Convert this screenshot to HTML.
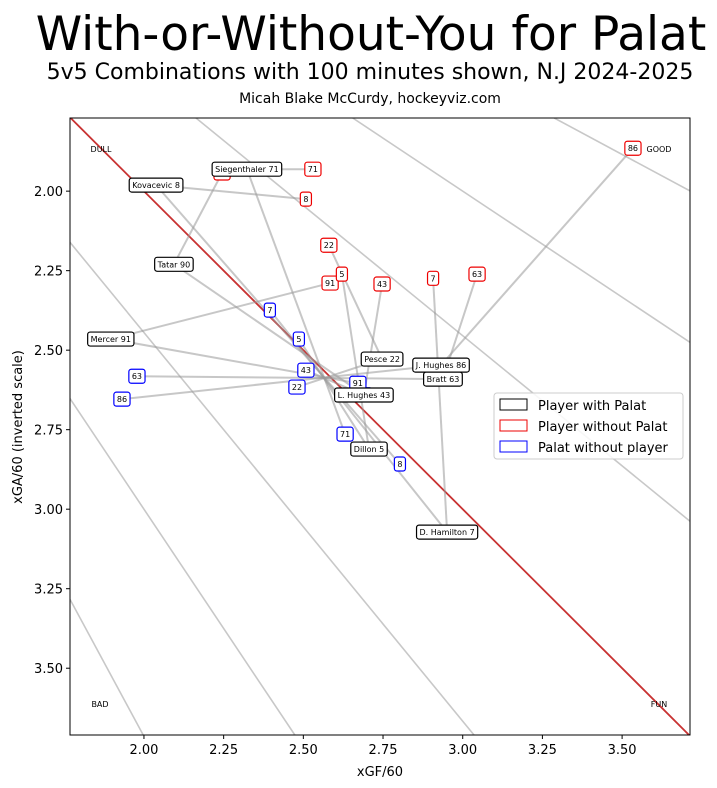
<!DOCTYPE html>
<html><head><meta charset="utf-8">
<style>
html,body{margin:0;padding:0;background:#fff;width:717px;height:788px;overflow:hidden;font-family:"Liberation Sans","DejaVu Sans",sans-serif;}
svg{display:block;overflow:hidden;}
svg text{font-family:"DejaVu Sans","Liberation Sans",sans-serif;}
</style></head>
<body>
<svg id="chart" width="717" height="788" viewBox="0 0 717 788">
<text x="371" y="50" font-size="47" text-anchor="middle">With-or-Without-You for Palat</text>
<text x="370" y="79" font-size="22" text-anchor="middle">5v5 Combinations with 100 minutes shown, N.J 2024-2025</text>
<text x="370" y="103" font-size="14" text-anchor="middle">Micah Blake McCurdy, hockeyviz.com</text>
<defs><clipPath id="pc"><rect x="70" y="118" width="620" height="617"/></clipPath></defs>
<g id="grid" clip-path="url(#pc)"></g>
<g id="links" clip-path="url(#pc)"></g>
<g id="marks"></g>
<rect x="70" y="118" width="620" height="617" fill="none" stroke="#000" stroke-width="1"/>
<g id="axes"></g>
<text x="380" y="776" font-size="13" text-anchor="middle">xGF/60</text>
<text x="22" y="427" font-size="13" text-anchor="middle" transform="rotate(-90 22 427)">xGA/60 (inverted scale)</text>
<g>
<rect x="494" y="393" width="189" height="66" rx="3" fill="#fff" fill-opacity="0.85" stroke="#ccc"/>
<rect x="500" y="399" width="27" height="11" fill="none" stroke="#000"/>
<text x="538" y="410" font-size="13">Player with Palat</text>
<rect x="500" y="420" width="27" height="11" fill="none" stroke="#e00"/>
<text x="538" y="431" font-size="13">Player without Palat</text>
<rect x="500" y="441" width="27" height="11" fill="none" stroke="#00f"/>
<text x="538" y="452" font-size="13">Palat without player</text>
</g>
</svg>
<script>
const players=["Siegenthaler 71","Kovacevic 8","Tatar 90","Mercer 91","Pesce 22","J. Hughes 86","Bratt 63","L. Hughes 43","Dillon 5","D. Hamilton 7"];
const nums=["71","8","90","91","22","86","63","43","5","7"];
const withX=[2.323,2.038,2.094,1.896,2.747,2.932,2.938,2.690,2.706,2.951];
const withY=[1.931,1.981,2.230,2.465,2.528,2.547,2.591,2.641,2.811,3.072];
const withoutX=[2.530,2.508,2.245,2.584,2.580,3.534,3.045,2.747,2.621,2.907];
const withoutY=[1.931,2.025,1.943,2.289,2.170,1.865,2.261,2.292,2.261,2.274];
const palatX=[2.631,2.803,2.690,2.671,2.480,1.931,1.978,2.508,2.486,2.395];
const palatY=[2.764,2.858,2.640,2.604,2.616,2.654,2.582,2.563,2.465,2.374];
const shareLines=[0.35,0.40,0.45,0.55,0.60,0.65];
const ticks=[2.00,2.25,2.50,2.75,3.00,3.25,3.50];
const X0=1.768,X1=3.713,Y0=1.770,Y1=3.710;
const sx=v=>70+(v-X0)/(X1-X0)*620;
const sy=v=>118+(v-Y0)/(Y1-Y0)*617;
const NS="http://www.w3.org/2000/svg";
function mk(tag,attrs,parent){const e=document.createElementNS(NS,tag);for(const k in attrs)e.setAttribute(k,attrs[k]);parent.appendChild(e);return e;}
const grid=document.getElementById('grid'),links=document.getElementById('links'),marks=document.getElementById('marks'),axes=document.getElementById('axes');
function ratioSeg(r){
 const xa=Math.max(X0,Y0/r), xb=Math.min(X1,Y1/r);
 return [xa,r*xa,xb,r*xb];
}
shareLines.forEach(p=>{const r=(1-p)/p;const s=ratioSeg(r);
 const l=mk('line',{x1:sx(s[0]),y1:sy(s[1]),x2:sx(s[2]),y2:sy(s[3]),stroke:'#c8c8c8','stroke-width':1.6},grid);
 
 });
const rs=ratioSeg(1);
const red=mk('line',{x1:sx(rs[0]),y1:sy(rs[1]),x2:sx(rs[2]),y2:sy(rs[3]),stroke:'#c83232','stroke-width':1.8},grid);


[["DULL",101,152],["GOOD",659,152],["BAD",100,707],["FUN",659,707]].forEach(c=>{
 const t=mk('text',{x:c[1],y:c[2],'font-size':8,'text-anchor':'middle'},marks);t.textContent=c[0];
 
 });
players.forEach((p,i)=>{
 const a=mk('line',{x1:sx(withX[i]),y1:sy(withY[i]),x2:sx(withoutX[i]),y2:sy(withoutY[i]),stroke:'#999','stroke-opacity':0.55,'stroke-width':2},links);
 
 
 const b=mk('line',{x1:sx(withX[i]),y1:sy(withY[i]),x2:sx(palatX[i]),y2:sy(palatY[i]),stroke:'#999','stroke-opacity':0.55,'stroke-width':2},links);
 
 });
function box(txt,x,y,col,name){
 const g=mk('g',{},marks);
 
 
 const r=mk('rect',{fill:'#fff',stroke:col,'stroke-width':1.2,rx:2.5},g);
 const t=mk('text',{x:sx(x),y:sy(y)+3,'font-size':8,'text-anchor':'middle'},g);t.textContent=txt;
 const w=t.getComputedTextLength();
 r.setAttribute('x',sx(x)-w/2-3);r.setAttribute('y',sy(y)-7);r.setAttribute('width',w+6);r.setAttribute('height',14);}
players.forEach((p,i)=>box(nums[i],palatX[i],palatY[i],'#00f','palat-without-'+nums[i]));
players.forEach((p,i)=>box(nums[i],withoutX[i],withoutY[i],'#e00','without-palat-'+nums[i]));
players.forEach((p,i)=>box(p,withX[i],withY[i],'#000','with-palat-'+nums[i]));
ticks.forEach(v=>{
 mk('line',{x1:sx(v),x2:sx(v),y1:735,y2:739,stroke:'#000'},axes);
 const t=mk('text',{x:sx(v),y:754,'font-size':13,'text-anchor':'middle'},axes);t.textContent=v.toFixed(2);
 
 
 mk('line',{x1:66,x2:70,y1:sy(v),y2:sy(v),stroke:'#000'},axes);
 const u=mk('text',{x:63,y:sy(v)+5,'font-size':13,'text-anchor':'end'},axes);u.textContent=v.toFixed(2);
 
 });
</script>
</body></html>
